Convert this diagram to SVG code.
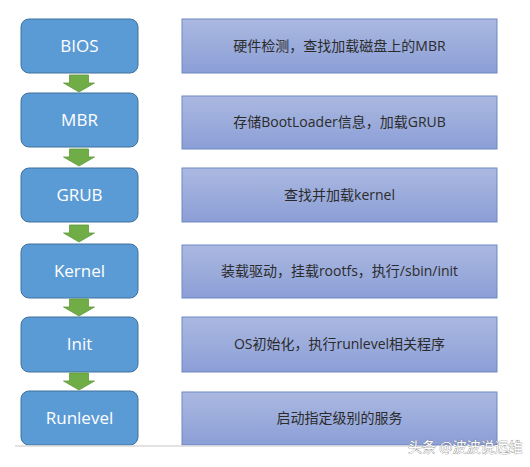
<svg xmlns="http://www.w3.org/2000/svg" width="530" height="467" viewBox="0 0 530 467">
<defs>
<linearGradient id="g" x1="0" y1="0" x2="0" y2="1">
<stop offset="0" stop-color="#abb9e1"/>
<stop offset="1" stop-color="#8b9ed6"/>
</linearGradient>
<path id="arr" d="M-9.5,0 H9.5 V8 H15.5 L0,17 L-15.5,8 H-9.5 Z"/>
</defs>
<style>
.step{fill:#5b9bd5;stroke:#41719c;stroke-width:1}
.desc{fill:url(#g);stroke:#6f87c4;stroke-width:1}
.st{font-family:"Open Sans","Noto Sans",sans-serif;font-size:17px;fill:#fff;text-anchor:middle}
.dt{font-family:"Open Sans","Noto Sans CJK SC",sans-serif;font-size:14px;fill:#2b2b2b;text-anchor:middle}
.a{fill:#70ad47;stroke:#5e9a3a;stroke-width:0.8}
</style>
<rect width="530" height="467" fill="#fff"/>
<g id="bios"><rect class="step" x="21" y="19" width="117" height="54" rx="8"/><text class="st" x="79.5" y="52">BIOS</text></g>
<g id="mbr"><rect class="step" x="21" y="93" width="117" height="54" rx="8"/><text class="st" x="79.5" y="126">MBR</text></g>
<g id="grub"><rect class="step" x="21" y="168" width="117" height="54" rx="8"/><text class="st" x="79.5" y="201">GRUB</text></g>
<g id="kernel"><rect class="step" x="21" y="244" width="117" height="54" rx="8"/><text class="st" x="79.5" y="277">Kernel</text></g>
<g id="init"><rect class="step" x="21" y="317" width="117" height="55" rx="8"/><text class="st" x="79.5" y="350">Init</text></g>
<g id="runlevel"><rect class="step" x="21" y="391" width="117" height="54" rx="8"/><text class="st" x="79.5" y="424">Runlevel</text></g>
<g id="d1"><rect class="desc" x="182" y="19" width="315" height="54"/><text class="dt" x="339.5" y="51">硬件检测，查找加载磁盘上的MBR</text></g>
<g id="d2"><rect class="desc" x="182" y="96" width="315" height="53"/><text class="dt" x="339.5" y="127">存储BootLoader信息，加载GRUB</text></g>
<g id="d3"><rect class="desc" x="182" y="168" width="315" height="54"/><text class="dt" x="339.5" y="200">查找并加载kernel</text></g>
<g id="d4"><rect class="desc" x="182" y="245" width="315" height="53"/><text class="dt" x="339.5" y="276">装载驱动，挂载rootfs，执行/sbin/init</text></g>
<g id="d5"><rect class="desc" x="182" y="317" width="315" height="55"/><text class="dt" x="339.5" y="349">OS初始化，执行runlevel相关程序</text></g>
<g id="d6"><rect class="desc" x="182" y="392" width="315" height="53"/><text class="dt" x="339.5" y="423">启动指定级别的服务</text></g>
<g id="connectors">
<use href="#arr" class="a" x="79" y="75"/>
<use href="#arr" class="a" x="79" y="149"/>
<use href="#arr" class="a" x="79" y="225"/>
<use href="#arr" class="a" x="79" y="299"/>
<use href="#arr" class="a" x="79" y="373"/>
</g>
<rect x="0" y="446" width="530" height="21" fill="#fff"/>
<line x1="15" y1="446" x2="410" y2="446" stroke="#d9d9d9" stroke-width="1.5"/>
<text x="408" y="452" font-family="'Noto Sans CJK SC',sans-serif" font-size="14" fill="#fff" stroke="#777" stroke-width="0.6" paint-order="stroke">头条 @波波说运维</text>
</svg>
